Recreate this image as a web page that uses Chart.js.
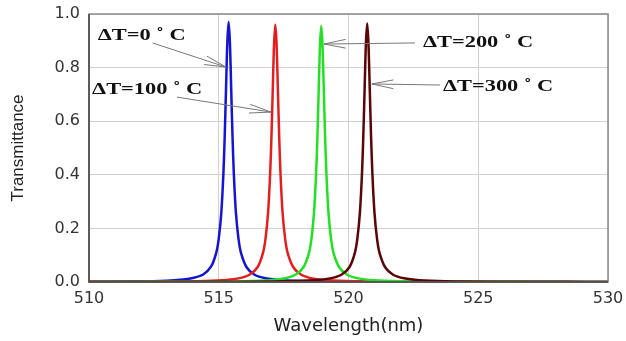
<!DOCTYPE html>
<html>
<head>
<meta charset="utf-8">
<script src="https://cdn.jsdelivr.net/npm/chart.js@4/dist/chart.umd.min.js"></script>
<style>
  html, body { margin: 0; padding: 0; background: #fff; }
  #wrap { width: 626px; height: 341px; }
</style>
</head>
<body>
<div id="wrap"><canvas id="grafico" width="626" height="341"></canvas></div>
<script>
// wavelength (nm) and transmittance, one pair per curve
const blueX = [510, 512, 513, 513.5, 514, 514.4, 514.7, 514.9, 515.0, 515.1, 515.18, 515.23, 515.28, 515.33, 515.38, 515.43, 515.48, 515.53, 515.58, 515.66, 515.76, 515.86, 516.08, 516.38, 516.8, 517.4, 518.4, 520, 523, 530];
const blueY = [0.001, 0.0025, 0.005, 0.008, 0.015, 0.028, 0.057, 0.108, 0.162, 0.261, 0.407, 0.545, 0.72, 0.893, 0.97, 0.893, 0.72, 0.545, 0.407, 0.261, 0.162, 0.108, 0.054, 0.027, 0.014, 0.007, 0.003, 0.0013, 0.0005, 0.0001];

const redX = [510, 513, 514.5, 515.3, 515.8, 516.2, 516.5, 516.7, 516.8, 516.9, 516.98, 517.03, 517.08, 517.13, 517.18, 517.23, 517.28, 517.33, 517.38, 517.46, 517.56, 517.66, 517.88, 518.18, 518.6, 519.2, 520.2, 521.8, 524.8, 530];
const redY = [0.0005, 0.0016, 0.0039, 0.0078, 0.0144, 0.028, 0.056, 0.107, 0.16, 0.258, 0.403, 0.54, 0.713, 0.884, 0.96, 0.884, 0.713, 0.54, 0.403, 0.258, 0.16, 0.107, 0.054, 0.027, 0.0136, 0.0067, 0.003, 0.0013, 0.0005, 0.0002];

const greenX = [510, 514, 516, 517.07, 517.57, 517.97, 518.27, 518.47, 518.57, 518.67, 518.75, 518.8, 518.85, 518.9, 518.95, 519.0, 519.05, 519.1, 519.15, 519.23, 519.33, 519.43, 519.65, 519.95, 520.37, 520.97, 521.97, 523.57, 526.57, 530];
const greenY = [0.0003, 0.0011, 0.0032, 0.0078, 0.0143, 0.028, 0.056, 0.106, 0.159, 0.257, 0.401, 0.537, 0.71, 0.879, 0.955, 0.879, 0.71, 0.537, 0.401, 0.257, 0.159, 0.106, 0.054, 0.027, 0.0135, 0.0067, 0.003, 0.0013, 0.0005, 0.0002];

const darkX = [510, 515, 517.5, 518.84, 519.34, 519.74, 520.04, 520.24, 520.34, 520.44, 520.52, 520.57, 520.62, 520.67, 520.72, 520.77, 520.82, 520.87, 520.92, 521.0, 521.1, 521.2, 521.42, 521.72, 522.14, 522.74, 523.74, 525.34, 528.34, 530];
const darkY = [0.0002, 0.0009, 0.0027, 0.0079, 0.0144, 0.028, 0.056, 0.107, 0.161, 0.26, 0.405, 0.542, 0.716, 0.888, 0.965, 0.888, 0.716, 0.542, 0.405, 0.26, 0.161, 0.107, 0.054, 0.027, 0.0137, 0.0068, 0.003, 0.0013, 0.0005, 0.0003];

const xTicks = [510, 515, 520, 525, 530];
const yTicks = [0, 0.2, 0.4, 0.6, 0.8, 1.0];

// labels: text anchor (left, middle) and arrow from -> tip, in data units
const etiquetas = ['ΔT=0 ˚ C', 'ΔT=100 ˚ C', 'ΔT=200 ˚ C', 'ΔT=300 ˚ C'];
const etiquetaPos = [[510.34, 0.918], [510.12, 0.716], [522.87, 0.894], [523.64, 0.728]];
const flechaDesde = [[512.45, 0.892], [513.39, 0.69], [522.56, 0.892], [523.53, 0.735]];
const flechaHasta = [[515.28, 0.802], [517.01, 0.634], [519.06, 0.888], [520.9, 0.739]];

function puntos(xs, ys) {
    return xs.map((x, i) => ({ x: x, y: ys[i] }));
}

function serie(xs, ys, color) {
    return {
        data: puntos(xs, ys),
        borderColor: color,
        borderWidth: 2.5,
        pointRadius: 0,
        showLine: true,
        fill: false,
        tension: 0.3
    };
}

const marcoYFlechas = {
    id: 'marcoYFlechas',
    afterDatasetsDraw(chart) {
        const { ctx, chartArea: a, scales } = chart;
        const sx = scales.x, sy = scales.y;
        ctx.save();
        // plot frame
        ctx.strokeStyle = '#8a8a8a';
        ctx.lineWidth = 1.5;
        ctx.strokeRect(a.left, a.top, a.right - a.left, a.bottom - a.top);
        ctx.strokeStyle = '#444';
        ctx.beginPath();
        ctx.moveTo(a.left, a.top);
        ctx.lineTo(a.left, a.bottom);
        ctx.lineTo(a.right, a.bottom);
        ctx.stroke();

        // arrows
        ctx.strokeStyle = '#777';
        ctx.lineWidth = 1;
        flechaDesde.forEach((d, i) => {
            const x0 = sx.getPixelForValue(d[0]), y0 = sy.getPixelForValue(d[1]);
            const x1 = sx.getPixelForValue(flechaHasta[i][0]), y1 = sy.getPixelForValue(flechaHasta[i][1]);
            const ang = Math.atan2(y1 - y0, x1 - x0);
            ctx.beginPath();
            ctx.moveTo(x0, y0);
            ctx.lineTo(x1, y1);
            ctx.moveTo(x1 - 22 * Math.cos(ang - 0.2), y1 - 22 * Math.sin(ang - 0.2));
            ctx.lineTo(x1, y1);
            ctx.lineTo(x1 - 22 * Math.cos(ang + 0.2), y1 - 22 * Math.sin(ang + 0.2));
            ctx.stroke();
        });

        // labels, stretched wide like the original
        ctx.fillStyle = '#111';
        ctx.font = 'bold 16px "Liberation Serif", "DejaVu Serif", serif';
        ctx.textBaseline = 'middle';
        ctx.textAlign = 'left';
        etiquetas.forEach((t, i) => {
            const px = sx.getPixelForValue(etiquetaPos[i][0]);
            const py = sy.getPixelForValue(etiquetaPos[i][1]);
            ctx.save();
            ctx.translate(px, py);
            ctx.scale(1.4, 1);
            ctx.fillText(t, 0, 0);
            ctx.restore();
        });
        ctx.restore();
    }
};

document.addEventListener('DOMContentLoaded', () => {
    const ctx = document.getElementById('grafico').getContext('2d');
    new Chart(ctx, {
        type: 'scatter',
        data: {
            datasets: [
                serie(darkX, darkY, '#5c0505'),
                serie(greenX, greenY, '#22e022'),
                serie(redX, redY, '#e41e1e'),
                serie(blueX, blueY, '#1414d2')
            ]
        },
        options: {
            responsive: false,
            animation: false,
            layout: { padding: { top: 14, right: 18, left: 0, bottom: 0 } },
            plugins: {
                legend: { display: false },
                tooltip: { enabled: false }
            },
            scales: {
                x: {
                    type: 'linear',
                    min: 510,
                    max: 530,
                    afterBuildTicks: s => { s.ticks = xTicks.map(v => ({ value: v })); },
                    afterFit: s => {
                        s.height = 59;
                        s.paddingLeft = 0;
                        s.paddingRight = 0;
                    },
                    ticks: {
                        color: '#333',
                        font: { family: '"DejaVu Sans", sans-serif', size: 16 },
                        padding: 7
                    },
                    grid: { color: '#d0d0d0', drawTicks: false },
                    border: { display: false },
                    title: {
                        display: true,
                        text: 'Wavelength(nm)',
                        color: '#222',
                        font: { family: '"DejaVu Sans", sans-serif', size: 18 },
                        padding: { top: 5 }
                    }
                },
                y: {
                    min: 0,
                    max: 1,
                    afterBuildTicks: s => { s.ticks = yTicks.map(v => ({ value: v })); },
                    afterFit: s => {
                        s.width = 89;
                        s.paddingTop = 0;
                        s.paddingBottom = 0;
                    },
                    ticks: {
                        color: '#333',
                        font: { family: '"DejaVu Sans", sans-serif', size: 16 },
                        padding: 9,
                        callback: v => v.toFixed(1)
                    },
                    grid: { color: '#d0d0d0', drawTicks: false },
                    border: { display: false },
                    title: {
                        display: true,
                        text: 'Transmittance',
                        color: '#222',
                        font: { family: '"Liberation Sans", Arial, sans-serif', size: 17 },
                        padding: { top: 8, bottom: 2 }
                    }
                }
            }
        },
        plugins: [marcoYFlechas]
    });
});
</script>
</body>
</html>
